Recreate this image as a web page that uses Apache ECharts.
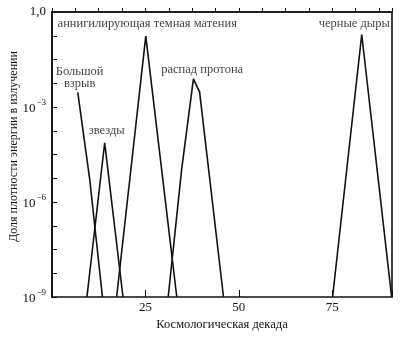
<!DOCTYPE html>
<html>
<head>
<meta charset="utf-8">
<script src="https://cdn.jsdelivr.net/npm/echarts@6/dist/echarts.min.js"></script>
<style>
  html, body { margin: 0; padding: 0; background: #fff; }
  #chart { width: 400px; height: 338px; }
</style>
</head>
<body>
<div id="chart"></div>
<script>
// points are [cosmological decade, log10(fraction)]
var bigBang = [[6.9, -2.54], [10.1, -5.29], [13.5, -9]]
var stars = [[9.35, -9], [14.1, -4.13], [19.0, -9]]
var darkMatter = [[17.3, -9], [25.1, -0.76], [33.4, -9]]
var protonDecay = [[31.1, -9], [34.7, -4.97], [37.85, -2.11], [39.5, -2.52], [45.9, -9]]
var blackHoles = [[75.1, -9], [82.9, -0.71], [90.9, -9]]

var labelNames = ['Большой\nвзрыв', 'звезды', 'аннигилирующая темная матения', 'распад протона', 'черные дыры']
var labelPos = [[7.4, -2.06], [14.65, -3.74], [25.5, -0.36], [40.2, -1.82], [80.9, -0.36]]

var yLabels = {'0': '1,0', '-3': '{b|10}{s|−3}', '-6': '{b|10}{s|−6}', '-9': '{b|10}{s|−9}'}
var xLabels = [25, 50, 75]

var serif = 'Liberation Serif'
var ink = '#111'

function curve (data) {
  return {
    type: 'line',
    data: data,
    showSymbol: false,
    silent: true,
    lineStyle: { color: ink, width: 1.6 }
  }
}

var chart = echarts.init(document.getElementById('chart'))
chart.setOption({
  animation: false,
  grid: {
    left: 52, top: 12, right: 8, bottom: 41,
    outerBoundsMode: 'none',
    containLabel: false,
    show: true, borderColor: ink, borderWidth: 1.6, backgroundColor: 'transparent'
  },
  xAxis: [
    {
      type: 'value', min: 0, max: 91, interval: 6.25,
      axisLine: { show: true, lineStyle: { color: ink, width: 1.6 } },
      axisTick: { inside: true, length: 4, lineStyle: { color: ink, width: 1 } },
      axisLabel: { show: false },
      splitLine: { show: false },
      name: 'Космологическая декада',
      nameLocation: 'middle',
      nameGap: 21,
      nameMoveOverlap: false,
      nameTextStyle: { fontFamily: serif, fontSize: 12.5, color: ink }
    },
    {
      type: 'value', min: 0, max: 91, interval: 25, position: 'bottom',
      axisLine: { show: false },
      axisTick: { inside: true, length: 7, lineStyle: { color: ink, width: 1 } },
      axisLabel: {
        margin: 4, fontFamily: serif, fontSize: 13, color: ink,
        formatter: function (v) { return xLabels.indexOf(v) >= 0 ? String(v) : '' }
      },
      splitLine: { show: false }
    }
  ],
  yAxis: {
    type: 'value', min: -9, max: 0, interval: 0.75,
    axisLine: { show: true, lineStyle: { color: ink, width: 1.6 } },
    axisTick: { inside: true, length: 5, lineStyle: { color: ink, width: 1 } },
    axisLabel: {
      margin: 6, fontFamily: serif, fontSize: 13, color: ink,
      formatter: function (v) {
        var key = String(Math.round(v * 100) / 100)
        return yLabels[key] || ''
      },
      rich: {
        b: { fontFamily: serif, fontSize: 13, color: ink, verticalAlign: 'bottom' },
        s: { fontFamily: serif, fontSize: 9, color: ink, verticalAlign: 'bottom', padding: [0, 0, 8, 1] }
      }
    },
    splitLine: { show: false },
    name: 'Доля плотности энергии в излучении',
    nameLocation: 'middle',
    nameGap: 32,
    nameMoveOverlap: false,
    nameTextStyle: { fontFamily: serif, fontSize: 12, color: ink, padding: [0, 0, 0, 16] }
  },
  series: [
    curve(bigBang),
    curve(stars),
    curve(darkMatter),
    curve(protonDecay),
    curve(blackHoles),
    {
      type: 'scatter',
      symbolSize: 0,
      silent: true,
      data: labelPos.map(function (p, i) { return { value: p, name: labelNames[i] } }),
      label: {
        show: true,
        position: 'inside',
        formatter: function (p) { return p.name },
        fontFamily: serif,
        fontSize: 12.5,
        lineHeight: 12,
        color: ink
      }
    }
  ]
})
</script>
</body>
</html>
